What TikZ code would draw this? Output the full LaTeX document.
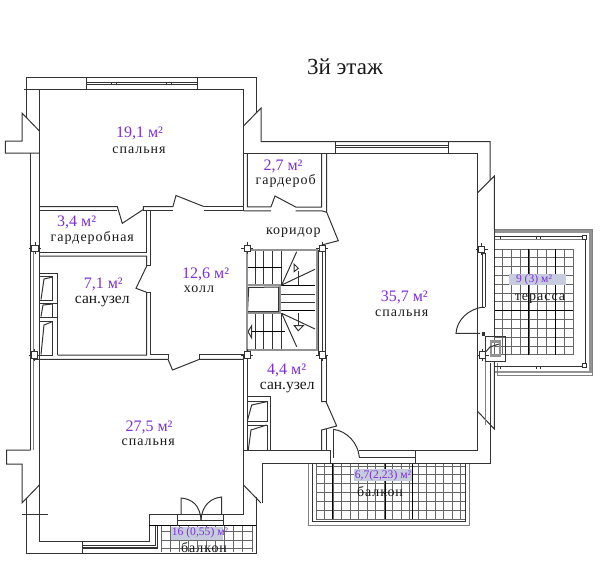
\documentclass[tikz,border=0pt]{standalone}
\usepackage{fontspec}
\setmainfont{Liberation Serif}
\newfontfamily\roomfont[LetterSpace=7]{Liberation Serif}
\definecolor{wallcol}{HTML}{333333}
\definecolor{areacol}{HTML}{7B2FD6}
\definecolor{boxcol}{HTML}{C6CBDD}
\tikzset{
	wall/.style = {draw = wallcol, line width = 1pt},
	thin wall/.style = {draw = gray, line width = 1pt},
	band/.style = {draw = gray!85, line width = 2.2pt},
	tile/.style = {draw = black!60, line width = 1pt},
	tile dark/.style = {draw = black, line width = 0.8pt},
	post/.style = {draw = wallcol, fill = white, line width = 1pt, minimum size = 6.5pt, inner sep = 0pt},
	area/.style = {text = areacol, font = \fontsize{16}{18}\selectfont, inner sep = 0pt},
	room/.style = {text = black!90, font = \fontsize{14}{16}\roomfont, inner sep = 0pt},
	room tight/.style = {text = black!90, font = \fontsize{15.5}{17}\selectfont, inner sep = 0pt},
	small area/.style = {text = areacol, font = \fontsize{11.6}{13}\selectfont, inner sep = 0pt},
}

\begin{document}
\begin{tikzpicture}[x = 1pt, y = -1pt]
	\useasboundingbox (0,0) rectangle (600,574);

	% terrace
	\foreach \x in {0,...,9}
	{
		\draw [tile] ({494+\x*8.78},249) -- ({494+\x*8.78},355);
	}
	\foreach \y in {0,...,12}
	{
		\draw [tile] (494,{249+\y*8.83}) -- (573,{249+\y*8.83});
	}
	\draw [tile dark] (528.3,249) -- (528.3,355) (555,249) -- (555,355);
	\draw [tile dark] (494,310) -- (573,310);
	\draw [band] (494,231.5) -- (590.5,231.5) -- (590.5,372) -- (494,372);
	\draw [thin wall] (494,229) -- (592.7,229) -- (592.7,375) -- (497,375) -- (497,363);
	\draw [wall] (494,236) -- (585,236) -- (585,366) -- (494,366);
	\draw [thin wall] (494,239) -- (585,239);
	\foreach \x in {500,536,540}
	{
		\draw [wall] (\x,236) -- (\x,239) (\x,366) -- (\x,369);
	}

	% balcony below the big bedroom
	\foreach \x in {0,...,17}
	{
		\draw [tile] ({316+\x*8.5},464) -- ({316+\x*8.5},519);
	}
	\foreach \y in {0,...,6}
	{
		\draw [tile] (316,{466+\y*8.9}) -- (465,{466+\y*8.9});
	}
	\draw [tile dark] (332.7,464) -- (332.7,519) (385,464) -- (385,519) (412,464) -- (412,519);
	\draw [thin wall] (308,464) -- (308,525) -- (469,525) -- (469,464);
	\draw [wall] (312,464) -- (312,521) -- (465.7,521) -- (465.7,464);

	% small balcony
	\foreach \x in {0,...,10}
	{
		\draw [tile] ({161+\x*9.1},526) -- ({161+\x*9.1},552);
	}
	\foreach \y in {531.7,540,548}
	{
		\draw [tile] (161,\y) -- (252,\y);
	}

	% outer walls, top left wing
	\draw [wall] (26.7,118) -- (26.7,77) -- (256,77) -- (256,113);
	\draw [wall] (24,89.5) -- (243.5,89.5) -- (243.5,206.5) -- (203.7,206.5);
	\draw [wall] (86,77) -- (86,89.5) (197,77) -- (197,89.5);
	\draw [wall] (86,82) -- (197,82) (86,84.5) -- (197,84.5);
	\foreach \x in {111,116,166,171}
	{
		\draw [wall] (\x,82) -- (\x,84.5);
	}
	\draw [wall] (39.4,89.5) -- (39.4,359.3);
	\draw [wall] (39.4,131) -- (22,113) -- (22,141) -- (5.3,141) -- (5.3,153) -- (39.4,153);
	\draw [wall] (30.7,153) -- (30.7,450);
	\draw [thin wall] (33,248) -- (33,450);
	\draw [wall] (243.5,126) -- (261,108) -- (261,141.5) -- (490,141.5) -- (490,180);
	\draw [wall] (243.5,153) -- (477.3,153);
	\draw [wall] (335,141.5) -- (335,153) (448,141.5) -- (448,153);
	\draw [wall] (335,145.5) -- (448,145.5) (335,147.5) -- (448,147.5);

	% right side
	\draw [wall] (477.3,153) -- (477.3,450) -- (359,450);
	\draw [wall] (477.3,193) -- (494.3,176) -- (494.3,229);
	\draw [wall] (494.3,229) -- (494.3,336);
	\draw [wall] (494.3,362) -- (494.3,429) -- (477.3,411);
	\draw [wall] (490.7,363) -- (490.7,463.5) -- (262,463.5) -- (262,503);
	\draw [thin wall] (485.7,362) -- (485.7,425);
	\draw [wall] (482,253) -- (482,307) (485.3,253) -- (485.3,307);
	\draw [wall] (482,253) -- (485.3,253) (482,307) -- (485.3,307);
	\draw [wall] (483.5,307) .. controls (468,309) and (457,320) .. (456,333.3) -- (480,333.3);
	\fill [wallcol] (481.5,332) rectangle (485,336);

	% chimney
	\draw [wall] (485.7,336) rectangle (505.7,361.7);
	\draw [band] (491,341.5) rectangle (500,355.5);
	\draw [wall] (483,355) -- (490,347) -- (499,344);

	% stairs
	\foreach \x in {255,263,272,281}
	{
		\draw [wall] (\x,251) -- (\x,285) (\x,313) -- (\x,349);
	}
	\foreach \y in {285,294.3,302.3,310.7}
	{
		\draw [wall] (281,\y) -- (315,\y);
	}
	\draw [wall] (298.3,271) -- (298.3,285) (298.3,313) -- (298.3,326);
	\draw [tile dark] (247,267.3) -- (281.7,267.3) (281.7,285) -- (315,285) (281.7,310.7) -- (315,310.7);
	\draw [tile dark] (250,331.7) -- (285,331.7);
	\draw [wall] (281.7,285) -- (296.7,251.7) (281.7,285) -- (315,269.3);
	\draw [wall] (281.7,313.3) -- (296.7,346.7) (281.7,313.3) -- (315,329);
	\draw [wall, fill = white] (294,264) -- (298.3,268.3) -- (294,271.7) -- cycle;
	\draw [wall, fill = white] (294.3,325.7) -- (303.3,325.7) -- (298.3,330.7) -- cycle;
	\draw [wall, fill = white] (248,331.7) -- (251.7,325.7) -- (251.7,338) -- cycle;
	\draw [band, fill = white] (246.7,285) rectangle (280,313.3);
	\draw [wall] (248.7,287.5) -- (278.5,287) -- (278.5,311.5) -- (247.5,311.5) -- cycle;
	\draw [band] (246.7,250) rectangle (316.7,350);
	\draw [wall] (318.5,250) -- (318.5,355) (322,250) -- (322,355) (325.7,250) -- (325.7,355);

	% inner walls, hall and rooms
	\draw [wall] (39.4,206.5) -- (117.3,206.5) -- (122.3,223.3) -- (143.3,209.5) -- (143.3,206.5) -- (173,206.5);
	\draw [wall] (173,206.5) -- (176,195.5) -- (203.7,206.5);
	\draw [wall] (39.4,210.7) -- (117,210.7) (143.3,210.7) -- (173,210.7) (203.7,210.7) -- (243.5,210.7);
	\draw [wall] (146.7,210.7) -- (146.7,252) -- (39.4,252);
	\draw [wall] (39.4,256) -- (146.7,256) -- (146.7,266) -- (136,288.3) -- (146.7,292.3) -- (146.7,355) -- (57.7,355);
	\draw [wall] (150.4,210.7) -- (150.4,265) -- (146.7,265) (146.7,292) -- (150.4,292) -- (150.4,354) -- (168,354);
	\draw [wall] (33,359.3) -- (168,359.3) -- (172.5,370) -- (199.5,359.3) -- (243.5,359.3);
	\draw [wall] (199.5,354) -- (243.5,354);
	\draw [wall] (168,354) -- (168,359.3) (199.5,354) -- (199.5,359.3);
	\draw [wall] (243.5,210.7) -- (243.5,153);
	\draw [wall] (247.3,153) -- (247.3,206.8) -- (271,206.8) -- (275,196) -- (295.7,207) -- (321.7,207) -- (321.7,153);
	\draw [wall] (326.7,153) -- (326.7,212.3) -- (338.3,240.7) -- (321.7,245);
	\draw [wall] (243.5,210.8) -- (271,210.8) (295.7,210.8) -- (321.7,210.8) -- (326.7,212.3);

	% sanitary room left
	\draw [wall] (39.4,273) -- (57.7,273) -- (57.7,355);
	\draw [wall] (39.4,276.7) rectangle (52.7,300);
	\draw [wall] (41,299.5) -- (44,279) -- (52.7,277);
	\draw [wall] (39.4,303) -- (57.7,303) (39.4,317) -- (57.7,317);
	\draw [wall] (52.7,303) -- (52.7,317);
	\draw [wall] (41,316.5) -- (43,305) -- (52.7,304);
	\draw [wall] (39.4,321) rectangle (52.7,355);
	\draw [wall] (41,354.5) -- (44,325) -- (52.7,321.5);

	% sanitary room right
	\draw [wall] (243.5,354) -- (243.5,514) -- (149.3,514) -- (149.3,541.5) -- (39.4,541.5) -- (39.4,359.3);
	\draw [wall] (247.3,358) -- (247.3,450);
	\draw [wall] (247.3,396) -- (270,396) -- (270,450);
	\draw [wall] (247.3,401.7) rectangle (267.3,421);
	\draw [wall] (247.3,421) -- (251.7,405) -- (266.7,401.7);
	\draw [wall] (247.3,425) rectangle (267.3,450);
	\draw [wall] (248.3,450) -- (251,430) -- (266.7,425);
	\draw [wall] (243.5,450) -- (330.7,450) -- (330.7,463.5);
	\draw [wall] (321.7,355) -- (321.7,401.7) -- (326,401.7) -- (336.7,426) -- (321.7,430) -- (321.7,450);
	\draw [wall] (326,355) -- (326,401.7) (326,429) -- (326,450);
	\draw [wall] (333.3,429.3) -- (333.3,457.7);
	\draw [wall] (333.3,429.3) .. controls (347,431) and (358,443) .. (359.3,457);
	\draw [wall, line width = 1.6pt] (359.3,457.5) -- (415.7,457.5);
	\draw [wall] (415.7,450) -- (415.7,463.5);

	% left bottom wing
	\draw [wall] (243.5,485) -- (261,503);
	\draw [wall] (30.7,450) -- (6.7,450) -- (6.7,464) -- (22,464) -- (22,503) -- (39.4,485);
	\draw [wall] (26.7,498) -- (26.7,553) -- (256,553) -- (256,497);
	\draw [wall] (21.7,514) -- (47.7,514);

	% balcony door and window
	\draw [tile dark] (149.3,525.7) -- (256,525.7);
	\draw [wall] (82,541.5) -- (82,553);
	\draw [wall] (82,545) -- (155,545) -- (155,525.7);
	\draw [wall, line width = 1.6pt] (82,548) -- (157.3,548) -- (157.3,525.7);
	\draw [wall] (177.3,514) -- (177.3,525.7) (223.3,514) -- (223.3,525.7);
	\draw [wall] (177.3,520) -- (223.3,520);
	\draw [wall] (181,514) -- (181,498) .. controls (192,499) and (200,505) .. (201,520);
	\draw [wall] (221.7,514) -- (221.7,497) .. controls (211,498) and (202,505) .. (201,520);

	% columns
	\foreach \x/\y [count = \i] in {35/248.3, 34.7/355, 247.3/248.3, 322.3/248.3, 247.3/355, 322.3/355, 481.7/249.3, 482.7/355}
	{
		\draw [wall] ({\x-6},\y) -- ({\x+6},\y) (\x,{\y-6}) -- (\x,{\y+6});
		\node [post] (col\i) at (\x,\y) {};
	}
	\node [post, minimum size = 4pt] (colne) at (584,237) {};
	\node [post, minimum size = 4pt] (colse) at (584,365) {};

	% grey boxes under the small figures
	\fill [boxcol] (509,274) rectangle (566,285);
	\fill [boxcol] (354,469) rectangle (411.7,481);
	\fill [boxcol] (171,527) rectangle (223,540);

	% labels
	\node (title) [font = \fontsize{23}{26}\selectfont, text = black!90] at (345,67) {3й этаж};

	\node [area] (areaa) at (139.5,133) {19,1 м²};
	\node [room] (rooma) at (139,150) {спальня};
	\node [area] (areab) at (283,166) {2,7 м²};
	\node [room] (roomb) at (285.7,181) {гардероб};
	\node [area] (areac) at (76.7,222.7) {3,4 м²};
	\node [room] (roomc) at (92.3,237.7) {гардеробная};
	\node [area] (aread) at (205.7,274.3) {12,6 м²};
	\node [room] (roomd) at (199,289) {холл};
	\node [area] (areae) at (103.3,284.5) {7,1 м²};
	\node [room tight] (roome) at (102.3,301.5) {сан.узел};
	\node [room] (roomf) at (293.3,232.3) {коридор};
	\node [area] (areag) at (404.3,297.5) {35,7 м²};
	\node [room] (roomg) at (401.7,313) {спальня};
	\node [area] (areah) at (286.7,370) {4,4 м²};
	\node [room tight] (roomh) at (287.3,387.5) {сан.узел};
	\node [area] (areai) at (149,427.5) {27,5 м²};
	\node [room] (roomi) at (148.3,442.5) {спальня};

	\node [small area] (areaj) at (534,279.5) {9 (3) м²};
	\node [room] (roomj) at (540,299) {терасса};
	\node [small area] (areak) at (383,475.5) {6,7(2,23) м²};
	\node [room] (roomk) at (380,491.7) {балкон};
	\node [small area] (areal) at (200,533) {16 (0,55) м²};
	\node [room] (rooml) at (204,547.5) {балкон};
\end{tikzpicture}
\end{document}
